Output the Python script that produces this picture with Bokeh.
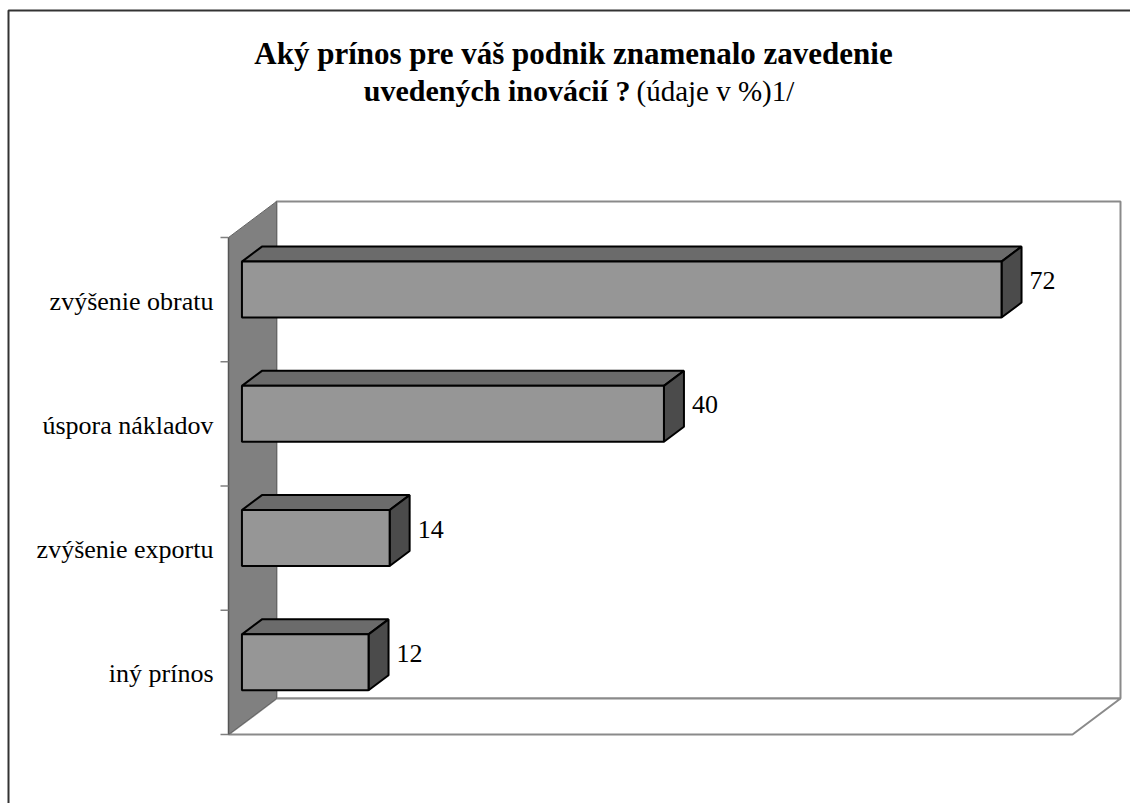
from bokeh.plotting import figure
from bokeh.models import Range1d, ColumnDataSource
from bokeh.core.properties import value
from bokeh.embed import file_html
from bokeh.resources import INLINE

# Chart data (bottom to top)
categories = ["iný prínos", "zvýšenie exportu", "úspora nákladov", "zvýšenie obratu"]
values = [12, 14, 40, 72]
value_max = 80
title_line1 = "Aký prínos pre váš podnik znamenalo zavedenie"
title_line2_bold = "uvedených inovácií ?"
title_line2_rest = "(údaje v %)1/"

W, H = 1130, 803
FONT = "Liberation Serif"

# Projection: value units along x, category units along y, oblique depth
PX = 10.55          # pixels per value unit
CAT = 124.25        # pixels per category
X0, Y0 = 228, 734   # pixel of the front-plane origin
DEPTH_X = 48 / PX   # full wall depth, in value units
DEPTH_Y = 36 / CAT  # full wall depth, in category units

xs, xe = -X0 / PX, (W - X0) / PX
ys, ye = -(H - Y0) / CAT, Y0 / CAT


def px_x(px):
    return xs + px / PX


def px_y(py):
    return ye - py / CAT


p = figure(width=W, height=H, x_range=Range1d(xs, xe), y_range=Range1d(ys, ye),
           x_axis_location=None, y_axis_location=None, min_border=0,
           output_backend="svg", toolbar_location=None)
p.grid.visible = False
p.outline_line_color = None
p.background_fill_color = "white"
p.border_fill_color = "white"

n = len(categories)

# Back wall
p.patch([DEPTH_X, value_max + DEPTH_X, value_max + DEPTH_X, DEPTH_X],
        [DEPTH_Y, DEPTH_Y, n + DEPTH_Y, n + DEPTH_Y],
        fill_color="white", line_color="#8a8a8a", line_width=2)
# Floor
p.patch([0, value_max, value_max + DEPTH_X, DEPTH_X],
        [0, 0, DEPTH_Y, DEPTH_Y],
        fill_color="white", line_color="#8a8a8a", line_width=2)
# Left wall
p.patch([0, DEPTH_X, DEPTH_X, 0],
        [0, DEPTH_Y, n + DEPTH_Y, n],
        fill_color="#808080", line_color="#666666", line_width=1)
# Category axis line and tick marks
p.line([0, 0], [0, n], line_color="#555555", line_width=1.5)
tick_len = 8 / PX
p.segment(x0=[-tick_len] * (n + 1), y0=list(range(n + 1)),
          x1=[0] * (n + 1), y1=list(range(n + 1)),
          line_color="#808080", line_width=1.5)

# 3D bars
t0, t1 = 0.28, 0.28 + 20 / 48
half_h = 0.225
bx0 = t0 * DEPTH_X
ddx = (t1 - t0) * DEPTH_X
ddy = (t1 - t0) * DEPTH_Y
centers = [i + 0.5 + t0 * DEPTH_Y for i in range(n)]

front = ColumnDataSource(dict(
    left=[bx0] * n, right=[bx0 + v for v in values],
    bottom=[c - half_h for c in centers], top=[c + half_h for c in centers]))

top_xs, top_ys, side_xs, side_ys = [], [], [], []
for v, c in zip(values, centers):
    x1 = bx0 + v
    yt, yb = c + half_h, c - half_h
    top_xs.append([bx0, bx0 + ddx, x1 + ddx, x1])
    top_ys.append([yt, yt + ddy, yt + ddy, yt])
    side_xs.append([x1, x1, x1 + ddx, x1 + ddx])
    side_ys.append([yb, yt, yt + ddy, yb + ddy])

p.patches(top_xs, top_ys, fill_color="#6b6b6b", line_color="black", line_width=2)
p.patches(side_xs, side_ys, fill_color="#4b4b4b", line_color="black", line_width=2)
p.quad(source=front, left="left", right="right", bottom="bottom", top="top",
       fill_color="#969696", line_color="black", line_width=2)

# Value labels
p.text(x=[bx0 + v + ddx + 8 / PX for v in values],
       y=[c + 9 / CAT for c in centers],
       text=[str(v) for v in values],
       text_font=value(FONT), text_font_size="26px", text_color="black",
       text_align="left", text_baseline="alphabetic")

# Category labels
p.text(x=[-15 / PX] * n, y=[i + 0.5 - 1.5 / CAT for i in range(n)],
       text=categories, text_font=value(FONT), text_font_size="26px",
       text_color="black", text_align="right", text_baseline="alphabetic")

# Title
p.text(x=[px_x(573)], y=[px_y(53)], text=[title_line1],
       text_font=value(FONT), text_font_size="31px", text_font_style="bold",
       text_color="black", text_align="center", text_baseline="alphabetic")
p.text(x=[px_x(630)], y=[px_y(90)], text=[title_line2_bold],
       text_font=value(FONT), text_font_size="30px", text_font_style="bold",
       text_color="black", text_align="right", text_baseline="alphabetic")
p.text(x=[px_x(636)], y=[px_y(90)], text=[title_line2_rest],
       text_font=value(FONT), text_font_size="29px",
       text_color="black", text_align="left", text_baseline="alphabetic")

# Chart area border (left and top edges)
p.line([px_x(8), px_x(8), px_x(W + 10)], [px_y(H + 10), px_y(10), px_y(10)],
       line_color="#333333", line_width=2)

open("out.html", "w").write(file_html(p, INLINE))
